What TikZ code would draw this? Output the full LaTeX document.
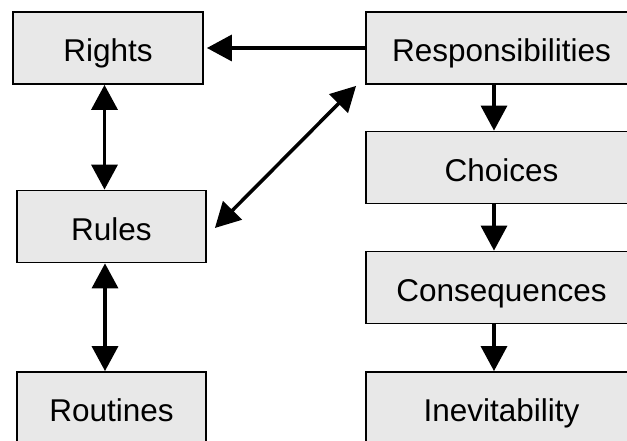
\documentclass[tikz,border=0pt]{standalone}
\usepackage{fontspec}
\setmainfont{Liberation Sans}
\usetikzlibrary{arrows.meta, positioning, calc}
\definecolor{boxGray}{RGB}{232, 232, 232}

\begin{document}
\begin{tikzpicture}[x=1pt, y=1pt,
    box/.style={draw, line width=1.8pt, fill=boxGray, minimum height=72pt,
        text height=28pt, text depth=0pt, inner sep=0pt,
        font=\fontsize{31.5}{36}\selectfont},
    leftbox/.style={box, minimum width=189pt},
    rightbox/.style={box, minimum width=271pt},
    link/.style={line width=3.5pt, -{Triangle[length=25pt, width=26pt]}},
    both/.style={line width=3.5pt, {Triangle[length=25pt, width=26pt]}-{Triangle[length=25pt, width=26pt]}}]
                \useasboundingbox[fill=white] (0,0) rectangle (627,441);

                % Left column
                \node[leftbox, minimum width=190pt] (rights) at (108,393) {Rights};
                \node[leftbox] (rules) at (111.5,214.5) {Rules};
                \node[leftbox] (routines) at (111.5,33) {Routines};

                % Right column
                \node[rightbox] (resp) at (501.5,393) {Responsibilities};
                \node[rightbox] (choices) at (501.5,273.5) {Choices};
                \node[rightbox] (conseq) at (501.5,153.5) {Consequences};
                \node[rightbox] (inevit) at (501.5,33) {Inevitability};

                % Links
                \draw[link] (resp.west) -- ([xshift=3pt]rights.east);
                \draw[both] ([xshift=-7pt]rules.north) -- ([xshift=-7pt]rules.north |- rights.south);
                \draw[both] ([xshift=-6.5pt]routines.north) -- ([xshift=-6.5pt]routines.north |- rules.south);
                \draw[both] ($(rules.east)+(8pt,-1.5pt)$) -- ($(resp.south west)+(-9pt,-1pt)$);
                \draw[link] ([xshift=-7.5pt]resp.south) -- ([xshift=-7.5pt]choices.north);
                \draw[link] ([xshift=-7.5pt]choices.south) -- ([xshift=-7.5pt]conseq.north);
                \draw[link] ([xshift=-7.5pt]conseq.south) -- ([xshift=-7.5pt]inevit.north);
            \end{tikzpicture}
\end{document}
